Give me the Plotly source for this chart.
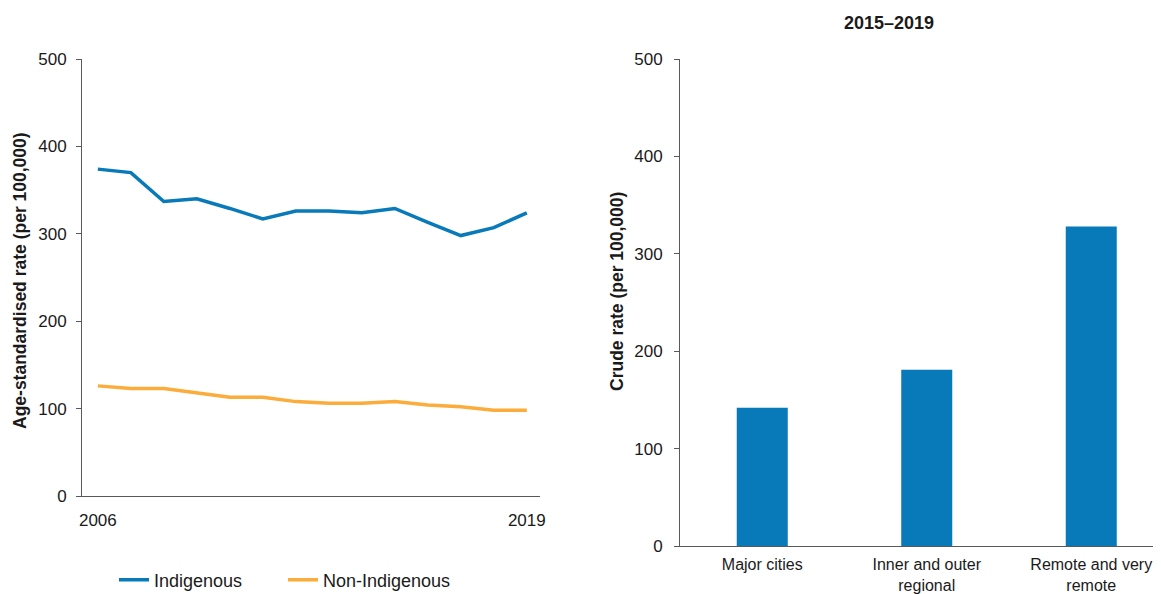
import plotly.graph_objects as go

years = list(range(2006, 2020))
indigenous = [374, 370, 337, 340, 329, 317, 326, 326, 324, 329, 313, 298, 307, 324]
non_indigenous = [126, 123, 123, 118, 113, 113, 108, 106, 106, 108, 104, 102, 98, 98]

regions = ["Major cities", "Inner and outer<br>regional", "Remote and very<br>remote"]
crude_rate = [142, 181, 328]

year_ticks = [2006, 2019]
y_ticks = [0, 100, 200, 300, 400, 500]

BLUE = "#0879b9"
ORANGE = "#fcac3a"
AXIS = "#595959"
FONT = "Liberation Sans, Arial, sans-serif"
TXT = "#1a1a1a"

OFF = 8  # page body margin
W, H = 1161 - OFF, 594 - OFF

def px_x(v):
    return (v - OFF) / W

def px_y(v):
    return (H - (v - OFF)) / H

fig = go.Figure()
fig.add_trace(go.Scatter(x=years, y=indigenous, mode="lines", name="Indigenous",
                         line=dict(color=BLUE, width=3.5), xaxis="x", yaxis="y"))
fig.add_trace(go.Scatter(x=years, y=non_indigenous, mode="lines", name="Non-Indigenous",
                         line=dict(color=ORANGE, width=3.5), xaxis="x", yaxis="y"))
fig.add_trace(go.Bar(x=[0, 1, 2], y=crude_rate, marker=dict(color=BLUE, line=dict(width=0)),
                     width=0.31, showlegend=False, xaxis="x2", yaxis="y2"))

axis_common = dict(showgrid=False, zeroline=False, showline=True, linecolor=AXIS, linewidth=1,
                   automargin=False)

fig.update_layout(
    width=W, height=H,
    margin=dict(l=0, r=0, t=0, b=0, autoexpand=False),
    paper_bgcolor="white", plot_bgcolor="white",
    font=dict(family=FONT, size=17, color=TXT),
    xaxis=dict(domain=[px_x(82), px_x(540)], range=[2005.52, 2019.4], tickvals=year_ticks,
               ticks="outside", ticklen=9, tickcolor="rgba(0,0,0,0)", anchor="y",
               tickfont=dict(family=FONT, size=17, color=TXT), **axis_common),
    yaxis=dict(domain=[px_y(496), px_y(59)], range=[0, 500], tickvals=y_ticks,
               ticks="outside", ticklen=5, tickcolor=AXIS, ticklabelstandoff=6,
               anchor="x", tickfont=dict(family=FONT, size=17, color=TXT), **axis_common),
    xaxis2=dict(domain=[px_x(680), 1.0], range=[-0.5, 2.424], tickvals=[0, 1, 2], ticktext=regions,
                ticks="outside", ticklen=4, tickcolor="rgba(0,0,0,0)", anchor="y2",
                tickfont=dict(family=FONT, size=16, color=TXT), **axis_common),
    yaxis2=dict(domain=[px_y(546), px_y(59)], range=[0, 500], tickvals=y_ticks,
                ticks="outside", ticklen=5, tickcolor=AXIS, ticklabelstandoff=8,
                anchor="x2", tickfont=dict(family=FONT, size=17, color=TXT), **axis_common),
    legend=dict(orientation="h", xref="container", yref="container",
                x=px_x(114), y=px_y(580), xanchor="left", yanchor="middle",
                font=dict(family=FONT, size=18, color=TXT),
                entrywidth=124, entrywidthmode="pixels",
                bgcolor="rgba(0,0,0,0)"),
    annotations=[
        dict(text="<b>Age-standardised rate (per 100,000)</b>", textangle=-90,
             xref="paper", yref="paper", x=px_x(20), y=px_y(281), showarrow=False,
             xanchor="center", yanchor="middle", font=dict(family=FONT, size=17.5, color=TXT)),
        dict(text="<b>Crude rate (per 100,000)</b>", textangle=-90,
             xref="paper", yref="paper", x=px_x(617), y=px_y(292), showarrow=False,
             xanchor="center", yanchor="middle", font=dict(family=FONT, size=17.5, color=TXT)),
        dict(text="<b>2015–2019</b>", xref="paper", yref="paper", x=px_x(889), y=px_y(23),
             showarrow=False, xanchor="center", yanchor="middle",
             font=dict(family=FONT, size=18, color=TXT)),
    ],
)

fig.write_html("out.html")
